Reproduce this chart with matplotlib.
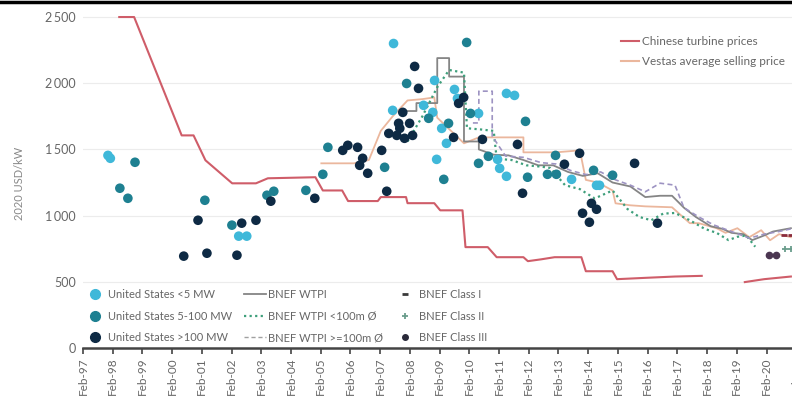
import numpy as np
import matplotlib.pyplot as plt
from matplotlib.lines import Line2D

plt.rcParams['font.family'] = ['Lato', 'DejaVu Sans']

# ---- data (decimal years, 2020 USD/kW) ----
tick_years = [1997.08 + k for k in range(25)]
tick_labels = ["Feb-%02d" % ((97 + k) % 100) for k in range(25)]
y_ticks = [0, 500, 1000, 1500, 2000, 2500]
y_tick_labels = ["0", "500", "1\u2009000", "1\u2009500", "2\u2009000", "2\u2009500"]

us_small_t = [1997.92, 1998.0, 2002.32, 2002.59, 2007.53, 2007.5, 2008.54, 2008.85, 2008.91,
              2008.98, 2009.31, 2009.58, 2009.68, 2009.15, 2010.39, 2011.33, 2011.6, 2011.03,
              2011.1, 2011.33, 2013.52, 2014.46, 2014.36]
us_small_v = [1455, 1433, 845, 845, 2300, 1795, 1833, 1780, 2021,
              1425, 1546, 1953, 1885, 1659, 1772, 1923, 1908, 1425,
              1357, 1297, 1274, 1229, 1229]

us_mid_t = [1998.32, 1998.59, 1998.83, 2001.18, 2002.09, 2003.27, 2003.5, 2004.58, 2005.15,
            2005.32, 2007.23, 2007.97, 2008.71, 2009.22, 2009.38, 2009.99, 2010.12, 2010.39,
            2010.72, 2011.97, 2012.04, 2012.71, 2013.01, 2012.98, 2014.26, 2014.9]
us_mid_v = [1207, 1131, 1403, 1116, 928, 1154, 1184, 1191, 1312,
            1516, 1365, 1998, 1735, 1274, 1697, 2308, 1772, 1395,
            1448, 1712, 1290, 1312, 1312, 1455, 1342, 1305]

us_large_t = [2000.47, 2000.95, 2001.25, 2002.26, 2002.42, 2002.9, 2003.4, 2004.88, 2005.82,
              2005.99, 2006.32, 2006.49, 2006.39, 2006.66, 2007.13, 2007.3, 2007.37, 2007.64,
              2007.9, 2008.17, 2007.7, 2008.07, 2007.84, 2008.24, 2008.37, 2007.74, 2009.55,
              2009.89, 2009.72, 2010.52, 2011.7, 2011.87, 2013.28, 2013.79, 2014.19, 2013.89,
              2014.36, 2014.12, 2015.64, 2016.41]
us_large_v = [694, 965, 716, 701, 943, 965, 1109, 1131, 1493,
              1531, 1516, 1433, 1380, 1320, 1493, 1184, 1621, 1606,
              1584, 1606, 1697, 1697, 1780, 2127, 1961, 1659, 1591,
              1893, 1848, 1576, 1538, 1169, 1388, 1471, 1093, 1018,
              1048, 950, 1395, 943]

wtpi_t = [2007.9, 2008.3, 2008.3, 2009.0, 2009.0, 2009.4, 2009.4, 2009.9, 2009.9, 2010.4, 2010.4,
          2010.9, 2011.4, 2011.9, 2012.4, 2012.9, 2013.4, 2013.9, 2014.4, 2014.9, 2015.5,
          2016.0, 2016.5, 2016.9, 2017.3, 2017.7, 2018.2, 2018.6, 2018.9, 2019.3, 2019.6,
          2020.0, 2020.3, 2020.9]
wtpi_v = [1790, 1790, 1850, 1850, 2190, 2190, 2050, 2050, 1560, 1560, 1500,
          1460, 1455, 1420, 1380, 1380, 1330, 1300, 1320, 1250, 1220,
          1140, 1150, 1150, 1060, 990, 920, 900, 870, 860, 815,
          850, 880, 905]

small_rotor_t = [2008.0, 2008.5, 2009.0, 2009.4, 2009.9, 2010.0, 2010.5, 2010.9, 2011.0, 2011.5,
                 2012.0, 2012.5, 2012.8, 2013.3, 2013.8, 2014.3, 2014.9, 2015.4, 2015.8, 2016.2,
                 2016.6, 2017.0, 2017.5, 2018.0, 2018.4, 2018.8, 2019.1, 2019.4, 2019.7]
small_rotor_v = [1560, 1750, 1970, 2100, 2080, 1660, 1650, 1640, 1430, 1420,
                 1380, 1370, 1360, 1230, 1200, 1130, 1190, 1050, 990, 965,
                 1015, 1020, 965, 900, 870, 815, 840, 850, 765]

large_rotor_t = [2010.2, 2010.4, 2010.4, 2010.85, 2010.85, 2011.3, 2011.9, 2012.5, 2013.0,
                 2013.5, 2014.0, 2014.5, 2015.0, 2015.5, 2016.0, 2016.5, 2017.0, 2017.3,
                 2017.8, 2018.3, 2018.9, 2019.5, 2020.0, 2020.5, 2020.9]
large_rotor_v = [1700, 1700, 1940, 1940, 1600, 1450, 1440, 1400, 1390,
                 1340, 1310, 1330, 1270, 1230, 1180, 1245, 1230, 1060,
                 990, 930, 880, 830, 860, 880, 900]

vestas_t = [2005.1, 2006.2, 2006.7, 2007.1, 2007.5, 2008.0, 2008.5, 2008.9, 2009.0, 2009.9,
            2010.4, 2011.9, 2011.9, 2013.0, 2013.8, 2014.0, 2014.4, 2014.9, 2015.0, 2015.5,
            2016.0, 2016.9, 2017.5, 2017.8, 2018.4, 2018.7, 2019.1, 2019.5, 2019.9, 2020.2,
            2020.5, 2020.9]
vestas_v = [1395, 1395, 1420, 1640, 1750, 1870, 1880, 1893, 1740, 1546,
            1591, 1591, 1478, 1478, 1493, 1270, 1250, 1190, 1093, 1078,
            1070, 1063, 943, 943, 905, 870, 905, 837, 890, 814,
            860, 837]

china_t = [1998.3, 1998.8, 2000.4, 2000.8, 2001.2, 2002.1, 2002.9, 2003.3, 2004.9, 2005.15,
           2005.8, 2006.0, 2007.0, 2007.1, 2007.95, 2008.0, 2008.9, 2009.1, 2009.85, 2009.95,
           2010.7, 2011.0, 2011.9, 2012.05, 2012.5, 2012.95, 2013.85, 2014.0, 2014.9, 2015.05,
           2016.0, 2017.0, 2017.9, np.nan, 2019.35, 2020.0, 2020.9]
china_v = [2500, 2500, 1606, 1606, 1418, 1244, 1244, 1282, 1290, 1190,
           1190, 1110, 1110, 1140, 1140, 1094, 1094, 1040, 1040, 762,
           762, 686, 686, 656, 670, 686, 686, 580, 580, 520,
           530, 540, 545, np.nan, 498, 520, 540]

class1_t, class1_v = [2020.68, 2020.9], [852, 852]
class2_t, class2_v = [2020.7, 2020.9], [745, 745]
class3_t, class3_v = [2020.17, 2020.41], [705, 705]

# ---- figure ----
fig = plt.figure(figsize=(7.92, 4.12), dpi=100)
ax = fig.add_axes([0.1048, 0.1553, 0.9088, 0.8355])

c_small, c_mid, c_large = '#3fb8d9', '#1e8091', '#0e2a44'

ax.plot(china_t, china_v, color='#cf5d69', lw=1.5, zorder=2)
ax.plot(vestas_t, vestas_v, color='#ebb79d', lw=1.3, zorder=2)
ax.plot(wtpi_t, wtpi_v, color='#858585', lw=1.3, zorder=2)
ax.plot(small_rotor_t, small_rotor_v, color='#3e9f7b', lw=1.6, ls=(0, (1, 1.5)), zorder=2)
ax.plot(large_rotor_t, large_rotor_v, color='#9d93c2', lw=1.2, ls=(0, (3, 2)), zorder=2)

ax.scatter(us_small_t, us_small_v, s=48, color=c_small, edgecolors='none', zorder=3)
ax.scatter(us_mid_t, us_mid_v, s=48, color=c_mid, edgecolors='none', zorder=3)
ax.scatter(us_large_t, us_large_v, s=48, color=c_large, edgecolors='none', zorder=3)

ax.plot(class1_t, class1_v, ls='none', marker='_', ms=5, mew=2, color='#8a2b3c', zorder=4)
ax.plot(class2_t, class2_v, ls='none', marker='+', ms=5, mew=1.3, color='#6a9d8c', zorder=4)
ax.plot(class3_t, class3_v, ls='none', marker='o', ms=4.5, color='#4b3651', zorder=4)

ax.set_xlim(1997.08, 2021.3)
ax.set_ylim(0, 2600)
ax.set_xticks(tick_years)
ax.set_xticklabels(tick_labels, rotation=90, fontsize=8.5, color='#666666')
ax.set_yticks(y_ticks)
ax.set_yticklabels(y_tick_labels, fontsize=9, color='#666666')
ax.tick_params(axis='y', length=0, pad=5)
ax.tick_params(axis='x', length=4, width=1.2, color='#444444', pad=3)
for s in ['top', 'right', 'left']:
    ax.spines[s].set_visible(False)
ax.spines['bottom'].set_linewidth(1.8)
ax.spines['bottom'].set_color('#444444')
ax.yaxis.grid(True, color='#ececec', lw=0.8)
ax.set_axisbelow(True)

fig.text(20 / 792, 1 - 183 / 412, "2020 USD/kW", rotation=90, fontsize=8,
         color='#888888', ha='center', va='center')

# bottom legend
h = [
    Line2D([], [], ls='none', marker='o', ms=7, color=c_small),
    Line2D([], [], ls='none', marker='o', ms=7, color=c_mid),
    Line2D([], [], ls='none', marker='o', ms=7, color=c_large),
    Line2D([], [], color='#858585', lw=1.3),
    Line2D([], [], color='#3e9f7b', lw=1.6, ls=(0, (1, 1.5))),
    Line2D([], [], color='#a0a0a0', lw=1.0, ls=(0, (3, 2))),
    Line2D([], [], ls='none', marker='_', ms=5, mew=2, color='#3a3a3a'),
    Line2D([], [], ls='none', marker='+', ms=5, mew=1.3, color='#6a9d8c'),
    Line2D([], [], ls='none', marker='o', ms=4, color='#2a2a3a'),
]
labels = ["United States <5 MW", "United States 5-100 MW", "United States >100 MW",
          "BNEF WTPI", "BNEF WTPI <100m \u00d8", "BNEF WTPI >=100m \u00d8",
          "BNEF Class I", "BNEF Class II", "BNEF Class III"]
leg = fig.legend(h, labels, ncol=3, loc='upper left', bbox_to_anchor=(84 / 792, 1 - 289 / 412),
                 frameon=False, fontsize=8, handlelength=2.0, handletextpad=0.2,
                 labelspacing=0.95, columnspacing=1.0, borderpad=0, borderaxespad=0)
for t in leg.get_texts():
    t.set_color('#666666')

# top-right legend
h2 = [Line2D([], [], color='#cf5d69', lw=1.5), Line2D([], [], color='#ebb79d', lw=1.5)]
leg2 = fig.legend(h2, ["Chinese turbine prices", "Vestas average selling price"],
                  loc='upper left', bbox_to_anchor=(621 / 792, 1 - 36 / 412),
                  frameon=False, fontsize=8.5, handlelength=1.5, handletextpad=0.25,
                  labelspacing=0.8, borderpad=0, borderaxespad=0)
for t in leg2.get_texts():
    t.set_color('#666666')

fig.add_artist(Line2D([0, 1], [0.996, 0.996], color='black', lw=2.5, transform=fig.transFigure))

fig.savefig("out.png", dpi=100)
